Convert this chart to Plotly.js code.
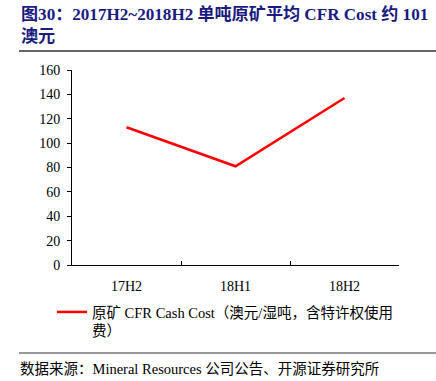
<!DOCTYPE html>
<html>
<head>
<meta charset="utf-8">
<script src="https://cdn.plot.ly/plotly-3.0.1.min.js"></script>
<style>html,body{margin:0;padding:0;background:#fff;}#chart{width:436px;height:381px;}</style>
</head>
<body>
<div id="chart"></div>
<script>
const categories = ["17H2", "18H1", "18H2"];
const cashCost = [113, 81, 137];
const seriesName = "原矿 CFR Cash Cost（澳元/湿吨，含特许权使用<br>费）";
const yTicks = [0, 20, 40, 60, 80, 100, 120, 140, 160];
const titleText = "<b>图30：2017H2~2018H2 单吨原矿平均 CFR Cost 约 101<br>澳元</b>";
const sourceText = "数据来源：Mineral Resources 公司公告、开源证券研究所";

const FONT = "'Times New Roman', 'Liberation Serif', 'Noto Sans CJK SC', serif";

const data = [{
  type: "scatter",
  mode: "lines",
  x: categories,
  y: cashCost,
  name: seriesName,
  line: {color: "#FF0000", width: 2.5},
  hoverinfo: "skip"
}];

const layout = {
  width: 436,
  height: 381,
  margin: {l: 72, r: 37, t: 70, b: 116, autoexpand: false},
  paper_bgcolor: "#fff",
  plot_bgcolor: "#fff",
  font: {family: FONT, size: 14, color: "#000"},
  showlegend: true,
  legend: {
    xref: "paper", yref: "paper",
    x: -20/327, y: -(296 - 265)/195, xanchor: "left", yanchor: "top",
    valign: "top",
    font: {family: FONT, size: 14.5, color: "#000"},
    bgcolor: "rgba(0,0,0,0)",
    tracegroupgap: 0
  },
  xaxis: {
    type: "category",
    range: [-0.5, 2.5],
    showline: true, linecolor: "#000", linewidth: 1,
    ticks: "inside", ticklen: 4, tickcolor: "#000",
    tickson: "boundaries",
    tickangle: 0,
    ticklabelstandoff: 8,
    showgrid: false, zeroline: false,
    automargin: false,
    tickfont: {family: FONT, size: 14, color: "#000"},
    fixedrange: true
  },
  yaxis: {
    range: [0, 160],
    tickvals: yTicks,
    showline: true, linecolor: "#000", linewidth: 1,
    ticks: "outside", ticklen: 4, tickcolor: "#000",
    ticklabelstandoff: 4,
    showgrid: false, zeroline: false,
    automargin: false,
    tickfont: {family: FONT, size: 14, color: "#000"},
    fixedrange: true
  },
  annotations: [
    {
      text: titleText,
      xref: "paper", yref: "paper",
      x: -53/327, y: 1 + 67/195,
      xanchor: "left", yanchor: "top",
      align: "left", showarrow: false,
      font: {family: FONT, size: 17.1, color: "#1a1a80"}
    },
    {
      text: sourceText,
      xref: "paper", yref: "paper",
      x: -54/327, y: -(359 - 265)/195,
      xanchor: "left", yanchor: "top",
      align: "left", showarrow: false,
      font: {family: FONT, size: 14.5, color: "#000"}
    }
  ],
  shapes: [
    {type: "line", xref: "paper", yref: "paper",
     x0: -53/327, x1: 1 + 37/327, y0: 1 + (70 - 51)/195, y1: 1 + (70 - 51)/195,
     line: {color: "#333", width: 1.5}},
    {type: "line", xref: "paper", yref: "paper",
     x0: -53/327, x1: 1 + 37/327, y0: -(353 - 265)/195, y1: -(353 - 265)/195,
     line: {color: "#333", width: 1}}
  ]
};

Plotly.newPlot("chart", data, layout, {displayModeBar: false, staticPlot: true});
</script>
</body>
</html>
